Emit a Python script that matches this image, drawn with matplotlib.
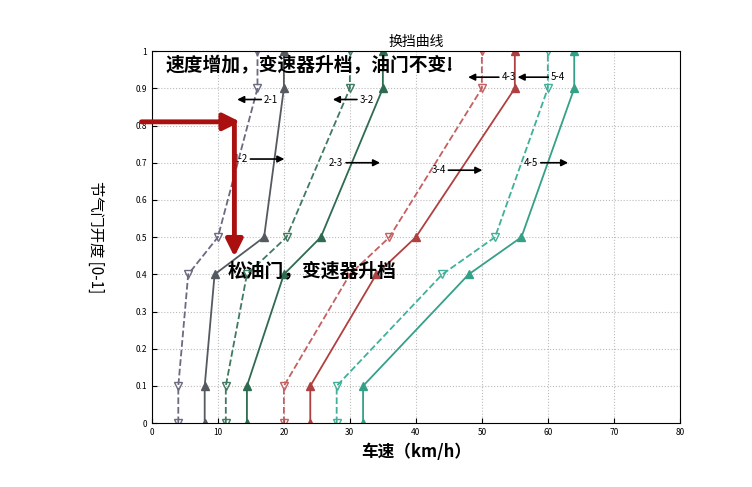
import matplotlib.pyplot as plt

plt.rcParams['font.family'] = ['Noto Sans CJK SC', 'DejaVu Sans']

throttle = [0, 0.1, 0.4, 0.5, 0.9, 1.0]
down_21 = [4, 4, 5.5, 10, 16, 16]
up_12 = [8, 8, 9.5, 17, 20, 20]
down_32 = [11.2, 11.2, 14.4, 20.4, 30, 30]
up_23 = [14.4, 14.4, 20, 25.6, 35, 35]
down_43 = [20, 20, 30, 36, 50, 50]
up_34 = [24, 24, 34, 40, 55, 55]
down_54 = [28, 28, 44, 52, 60, 60]
up_45 = [32, 32, 48, 56, 64, 64]

curves = [
    (down_21, "#6a6a80", "--", "v"),
    (up_12, "#555a60", "-", "^"),
    (down_32, "#3f7a60", "--", "v"),
    (up_23, "#2e6b50", "-", "^"),
    (down_43, "#c46060", "--", "v"),
    (up_34, "#b04040", "-", "^"),
    (down_54, "#40b09a", "--", "v"),
    (up_45, "#35a088", "-", "^"),
]

# label, text x, text y, arrow tip x
labels = [
    ("2-1", 17, 0.87, 12.5),
    ("3-2", 31.5, 0.87, 27),
    ("4-3", 53, 0.93, 47.5),
    ("5-4", 60.5, 0.93, 55),
    ("1-2", 14.5, 0.71, 20.5),
    ("2-3", 29, 0.70, 35),
    ("3-4", 44.5, 0.68, 50.5),
    ("4-5", 58.5, 0.70, 63.5),
]

fig = plt.figure(figsize=(7.52, 4.87), dpi=100)
ax = fig.add_axes([0.202, 0.131, 0.702, 0.764])

for xs, color, ls, mk in curves:
    ax.plot(xs, throttle, color=color, linestyle=ls, marker=mk, markersize=6,
            markerfacecolor="none" if mk == "v" else color, markeredgecolor=color, linewidth=1.3)

for name, tx, ty, ax_tip in labels:
    ax.annotate("", xy=(ax_tip, ty), xytext=(tx, ty),
                arrowprops=dict(arrowstyle="-|>", color="black", lw=1.2))
    ha = "left" if ax_tip < tx else "right"
    ax.text(tx, ty, name, fontsize=7, ha=ha, va="center")

# red illustration arrows
ax.annotate("", xy=(13.8, 0.81), xytext=(-2, 0.81), annotation_clip=False,
            arrowprops=dict(arrowstyle="-|>", color="#aa1010", lw=3.5, mutation_scale=25))
ax.annotate("", xy=(12.5, 0.44), xytext=(12.5, 0.81),
            arrowprops=dict(arrowstyle="-|>", color="#aa1010", lw=3.5, mutation_scale=25))

ax.text(2, 0.945, "速度增加，变速器升档，油门不变!", fontsize=13.5, fontweight="bold")
ax.text(11.5, 0.395, "松油门，变速器升档", fontsize=13.5, fontweight="bold")

ax.set_xlim(0, 80)
ax.set_ylim(0, 1)
ax.set_xticks(range(0, 81, 10))
ax.set_yticks([i / 10 for i in range(11)])
ax.set_yticklabels(["0", "0.1", "0.2", "0.3", "0.4", "0.5", "0.6", "0.7", "0.8", "0.9", "1"])
ax.tick_params(labelsize=6, direction="in")
ax.grid(True, linestyle=":", color="#bbbbbb")
ax.set_title("换挡曲线", fontsize=10, style="italic", pad=4)
ax.set_xlabel("车速（km/h）", fontsize=12, fontweight="bold")
ax.set_ylabel("节气门开度 [0-1]", fontsize=11, rotation=270, labelpad=35)

fig.savefig("out.png")
